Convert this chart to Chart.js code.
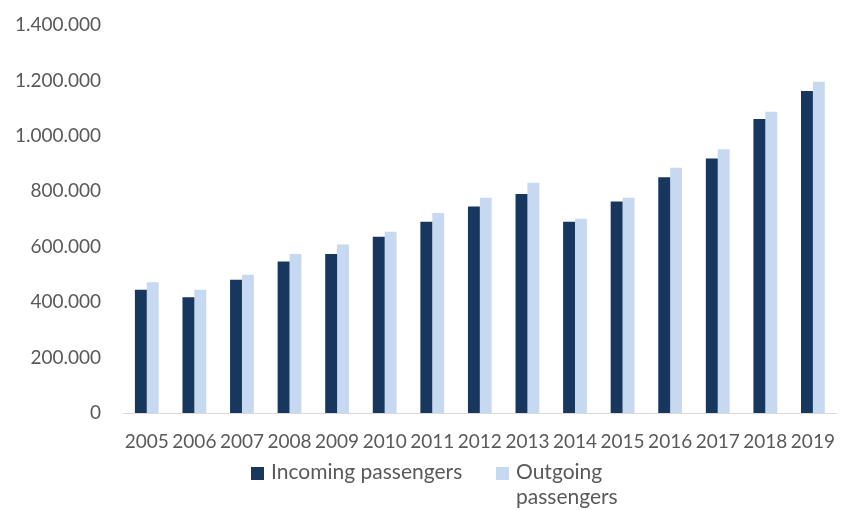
<!DOCTYPE html>
<html>
<head>
<meta charset="utf-8">
<script src="https://cdn.jsdelivr.net/npm/chart.js@4/dist/chart.umd.min.js"></script>
<style>
  html, body { margin: 0; padding: 0; background: #fff; }
  #wrap { width: 852px; height: 510px; position: relative; }
</style>
</head>
<body>
<div id="wrap"><canvas id="passengers"></canvas></div>
<script>
const years = ['2005', '2006', '2007', '2008', '2009', '2010', '2011', '2012', '2013', '2014', '2015', '2016', '2017', '2018', '2019']
const incoming = [445000, 418000, 481000, 547000, 574000, 636000, 690000, 745000, 790000, 690000, 763000, 851000, 918000, 1061000, 1162000]
const outgoing = [472000, 445000, 499000, 574000, 608000, 654000, 722000, 777000, 831000, 701000, 777000, 885000, 952000, 1087000, 1195000]
const legendLabels = [['Incoming passengers'], ['Outgoing', 'passengers']]

const textColor = '#595959'
const fontFamily = 'Lato, "Open Sans", sans-serif'
const darkBlue = '#17375E'
const lightBlue = '#C6D9F0'

// excel style 1.400.000
const fmt = v => String(v).replace(/\B(?=(\d{3})+(?!\d))/g, '.')

// legend with wrapped second label, drawn under the x axis
const wrappedLegend = {
  id: 'wrappedLegend',
  afterDraw(chart) {
    const ctx = chart.ctx
    const items = [
      { x: 251, color: darkBlue, lines: legendLabels[0] },
      { x: 496, color: lightBlue, lines: legendLabels[1] },
    ]
    ctx.save()
    ctx.font = '21px ' + fontFamily
    ctx.textBaseline = 'middle'
    items.forEach(it => {
      ctx.fillStyle = it.color
      ctx.fillRect(it.x, 467, 13, 13)
      ctx.fillStyle = textColor
      it.lines.forEach((line, i) => ctx.fillText(line, it.x + 20, 472 + i * 25))
    })
    ctx.restore()
  }
}

new Chart(document.getElementById('passengers'), {
  type: 'bar',
  data: {
    labels: years,
    datasets: [
      { label: 'Incoming passengers', data: incoming, backgroundColor: darkBlue },
      { label: 'Outgoing passengers', data: outgoing, backgroundColor: lightBlue },
    ]
  },
  options: {
    responsive: true,
    maintainAspectRatio: false,
    animation: false,
    datasets: { bar: { categoryPercentage: 0.5, barPercentage: 1 } },
    layout: { padding: { top: 25, right: 2, left: 0, bottom: 0 } },
    plugins: { legend: { display: false }, tooltip: { enabled: false } },
    scales: {
      x: {
        grid: { display: false, drawTicks: false },
        border: { display: true, color: '#D9D9D9', width: 1 },
        ticks: { color: textColor, font: { family: fontFamily, size: 19 }, padding: 17, maxRotation: 0, autoSkip: false },
        afterFit: s => { s.height = 97 }
      },
      y: {
        min: 0,
        max: 1400000,
        grid: { display: false, drawTicks: false },
        border: { display: false },
        ticks: {
          stepSize: 200000,
          color: textColor,
          font: { family: fontFamily, size: 19 },
          padding: 22,
          callback: v => fmt(v)
        },
        afterFit: s => {
          s.width = 123
          // tick padding would otherwise push the top down
          s.paddingTop = 0
          s.paddingBottom = 0
        }
      }
    }
  },
  plugins: [wrappedLegend]
})
</script>
</body>
</html>
